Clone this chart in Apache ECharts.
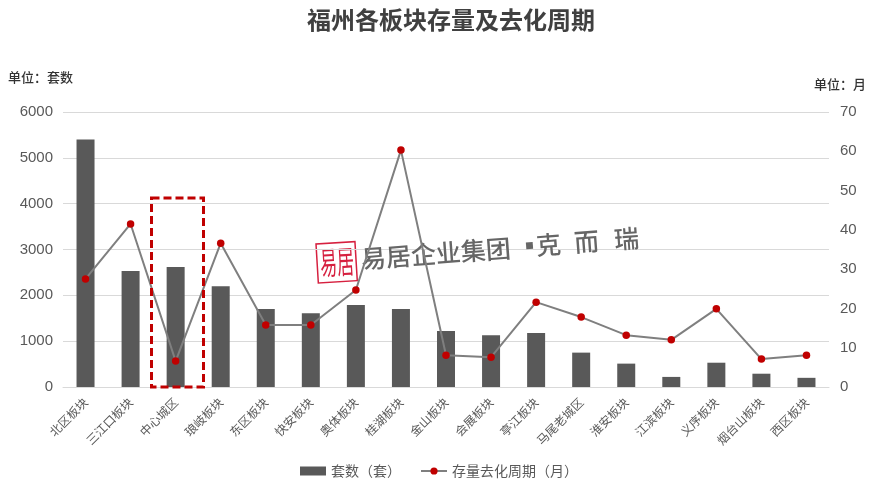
<!DOCTYPE html>
<html><head><meta charset="utf-8">
<style>html,body{margin:0;padding:0;background:#fff}#c{width:878px;height:489px}</style>
<script src="https://cdn.jsdelivr.net/npm/echarts@6/dist/echarts.min.js"></script>
</head><body><div id="c"></div>
<script>
const categories=['北区板块','三江口板块','中心城区','琅岐板块','东区板块','快安板块','奥体板块','桂湖板块','金山板块','会展板块','亭江板块','马尾老城区','淮安板块','江滨板块','义序板块','烟台山板块','西区板块'];
const stock=[5400,2530,2620,2200,1700,1610,1790,1700,1220,1130,1180,750,510,220,530,290,200];
const cycle=[27.5,41.5,6.6,36.6,15.8,15.8,24.7,60.3,8.1,7.6,21.6,17.8,13.2,12,19.9,7.1,8.1];
const leftTicks={min:0,max:6000,interval:1000};
const rightTicks={min:0,max:70,interval:10};
const fam='"Liberation Sans","Noto Sans CJK SC",sans-serif';
const cjk='"Noto Sans CJK SC",sans-serif';
const wm=(text,x,y)=>({type:'text',x,y,rotation:0.075,z:1,style:{text,font:'500 25px '+cjk,fill:'#666',verticalAlign:'bottom'}});
const chart=echarts.init(document.getElementById('c'),null,{renderer:'canvas'});
chart.setOption({
  animation:false,
  backgroundColor:'#fff',
  title:{text:'福州各板块存量及去化周期',left:446,top:3,textAlign:'center',textStyle:{fontFamily:cjk,fontSize:24,fontWeight:'bold',color:'#404040'}},
  grid:{left:63,right:49,top:112,bottom:102},
  legend:{top:459,left:295,itemGap:19,selectedMode:false,textStyle:{fontFamily:cjk,fontSize:14,color:'#595959'},
    data:[{name:'套数（套）',icon:'rect'},{name:'存量去化周期（月）'}],itemWidth:26,itemHeight:9},
  xAxis:{type:'category',data:categories,axisTick:{show:false},axisLine:{lineStyle:{color:'#d9d9d9',width:1}},
    axisLabel:{rotate:45,interval:0,margin:13,fontFamily:cjk,fontSize:12,color:'#595959'}},
  yAxis:[
    {type:'value',...leftTicks,axisLine:{show:false},axisTick:{show:false},splitLine:{lineStyle:{color:'#d9d9d9',width:1}},
      axisLabel:{margin:10,fontFamily:fam,fontSize:15,color:'#595959',lineHeight:17,padding:[4,0,0,0],formatter:v=>String(v)}},
    {type:'value',...rightTicks,axisLine:{show:false},axisTick:{show:false},splitLine:{show:false},
      axisLabel:{margin:11,fontFamily:fam,fontSize:15,color:'#595959',lineHeight:17,padding:[4,0,0,0],formatter:v=>String(v)}}
  ],
  series:[
    {name:'套数（套）',type:'bar',data:stock,barWidth:18,itemStyle:{color:'#595959'},z:2},
    {name:'存量去化周期（月）',type:'line',yAxisIndex:1,data:cycle,symbol:'circle',symbolSize:7.5,
      lineStyle:{color:'#7f7f7f',width:2},itemStyle:{color:'#c00000',borderWidth:0},z:4}
  ],
  graphic:[
    {type:'text',left:8,top:71,style:{text:'单位：套数',font:'500 13px '+cjk,fill:'#333'}},
    {type:'text',left:814,top:78,style:{text:'单位：月',font:'500 13px '+cjk,fill:'#333'}},
    {type:'rect',z:5,shape:{x:151.5,y:198,width:52,height:189},style:{fill:'none',stroke:'#c00000',lineWidth:3,lineDash:[8,4]}},
    {type:'group',x:316,y:244,rotation:0.06,z:1,children:[
      {type:'rect',shape:{x:0,y:0,width:39,height:39},style:{fill:'#fff',stroke:'#d6203f',lineWidth:1.5}},
      {type:'text',x:3,y:3,scaleX:0.85,scaleY:1.6,style:{text:'易居',font:'20px '+cjk,fill:'#d6203f'}}
    ]},
    wm('易居企业集团',362,271.5),wm('▪',518,259),wm('克',537,258),wm('而',575,255),wm('瑞',615,252)
  ]
});
</script></body></html>
